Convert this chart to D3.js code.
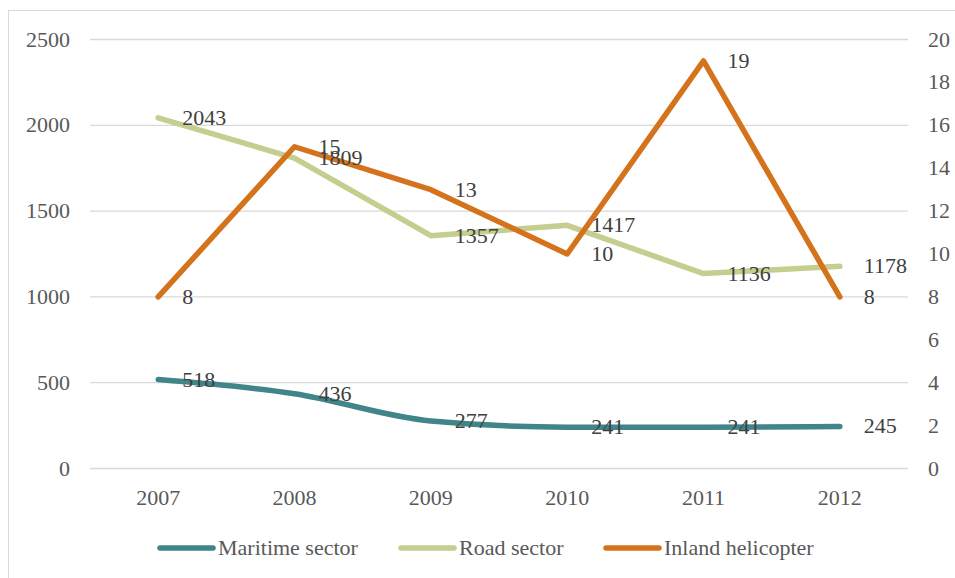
<!DOCTYPE html>
<html>
<head>
<meta charset="utf-8">
<script src="https://cdn.jsdelivr.net/npm/d3@7"></script>
<style>
  body { margin: 0; background: #fff; }
</style>
</head>
<body>
<script>
var width = 955,
    height = 578;

var years = ["2007", "2008", "2009", "2010", "2011", "2012"];
var maritime = [518, 436, 277, 241, 241, 245];
var road = [2043, 1809, 1357, 1417, 1136, 1178];
var heli = [8, 15, 13, 10, 19, 8];

var leftTicks = [0, 500, 1000, 1500, 2000, 2500];
var rightTicks = [0, 2, 4, 6, 8, 10, 12, 14, 16, 18, 20];

var margin = {left: 90, right: 47, top: 39.5, bottom: 109.5};

var svg = d3.select("body").append("svg")
    .attr("width", width)
    .attr("height", height);

// outer frame
svg.append("rect")
    .attr("x", 8.5).attr("y", 10.5)
    .attr("width", 950).attr("height", 580)
    .attr("fill", "none")
    .attr("stroke", "#d9d9d9");

var x = d3.scaleBand()
    .domain(years)
    .range([margin.left, width - margin.right]);

var yL = d3.scaleLinear().domain([0, 2500]).range([height - margin.bottom, margin.top]);
var yR = d3.scaleLinear().domain([0, 20]).range([height - margin.bottom, margin.top]);

function label(sel) {
  return sel.style("font-family", "Liberation Serif")
      .style("font-size", "22px")
      .style("fill", "#595959");
}

// gridlines
svg.append("g").selectAll("line").data(leftTicks)
  .enter().append("line")
    .attr("x1", margin.left).attr("x2", width - margin.right)
    .attr("y1", d => yL(d)).attr("y2", d => yL(d))
    .attr("stroke", "#d9d9d9").attr("stroke-width", 1.3);

// left axis labels
svg.append("g").selectAll("text").data(leftTicks)
  .enter().append("text")
    .call(label)
    .attr("x", 70).attr("y", d => yL(d))
    .attr("dy", "0.32em")
    .attr("text-anchor", "end")
    .text(d => d);

// right axis labels
svg.append("g").selectAll("text").data(rightTicks)
  .enter().append("text")
    .call(label)
    .attr("x", 928).attr("y", d => yR(d))
    .attr("dy", "0.32em")
    .text(d => d);

// x labels
svg.append("g").selectAll("text").data(years)
  .enter().append("text")
    .call(label)
    .attr("x", d => x(d) + x.bandwidth() / 2)
    .attr("y", 505)
    .attr("text-anchor", "middle")
    .text(d => d);

var cx = (d, i) => x(years[i]) + x.bandwidth() / 2;

var series = [
  {name: "Maritime sector", vals: maritime, y: yL, color: "#3f8589", curve: d3.curveMonotoneX},
  {name: "Road sector", vals: road, y: yL, color: "#c5cd8f", curve: d3.curveLinear},
  {name: "Inland helicopter", vals: heli, y: yR, color: "#d5731c", curve: d3.curveLinear}
];

series.forEach(function(s) {
  var line = d3.line()
      .x(cx)
      .y(d => s.y(d))
      .curve(s.curve);
  svg.append("path")
      .datum(s.vals)
      .attr("fill", "none")
      .attr("stroke", s.color)
      .attr("stroke-width", 5.5)
      .attr("stroke-linecap", "round")
      .attr("stroke-linejoin", "round")
      .attr("d", line);
});

// data labels
series.forEach(function(s) {
  svg.append("g").selectAll("text").data(s.vals)
    .enter().append("text")
      .call(label)
      .style("fill", "#404040")
      .attr("x", (d, i) => cx(d, i) + 24)
      .attr("y", d => s.y(d))
      .attr("dy", "0.32em")
      .text(d => d);
});

// legend
var legendX = [160, 401, 606];
var lg = svg.append("g").selectAll("g").data(series)
  .enter().append("g")
    .attr("transform", (d, i) => "translate(" + legendX[i] + ",548)");
lg.append("line")
    .attr("x1", 0).attr("x2", 53)
    .attr("stroke", d => d.color)
    .attr("stroke-width", 5.5)
    .attr("stroke-linecap", "round");
lg.append("text")
    .call(label)
    .attr("x", 58).attr("dy", "0.32em")
    .text(d => d.name);
</script>
</body>
</html>
